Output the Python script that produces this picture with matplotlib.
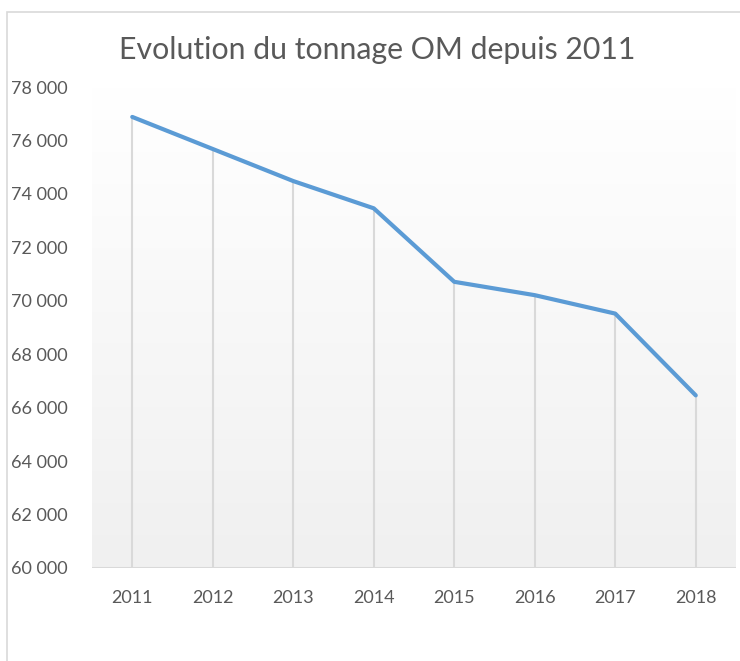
import numpy as np
import matplotlib
matplotlib.use('Agg')
import matplotlib.pyplot as plt
from matplotlib.patches import Rectangle

# Tonnage OM per year
years = ['2011', '2012', '2013', '2014', '2015', '2016', '2017', '2018']
tonnage = [76880, 75680, 74480, 73460, 70710, 70210, 69520, 66460]
yticks = [60000, 62000, 64000, 66000, 68000, 70000, 72000, 74000, 76000, 78000]

plt.rcParams['font.family'] = ['Lato', 'DejaVu Sans']
grey_text = '#595959'

W, H = 740, 661
fig = plt.figure(figsize=(W / 100, H / 100), dpi=100)
fig.patch.set_facecolor('white')

# outer frame of the chart (left and top edges visible)
fig.patches.append(Rectangle((7 / W, -0.1), 1.2, (H - 12) / H + 0.1, transform=fig.transFigure,
                             fill=False, edgecolor='#d9d9d9', linewidth=1.2))

ax = fig.add_axes([92 / W, 1 - 568 / H, (736 - 92) / W, (568 - 87) / H])
x = np.arange(len(years))

# vertical gradient background of the plot area
grad = np.linspace(0, 1, 256).reshape(-1, 1)
ax.imshow(grad, extent=[0, 1, 0, 1], transform=ax.transAxes, aspect='auto',
          cmap=matplotlib.colors.LinearSegmentedColormap.from_list('g', ['#f0f0f0', '#ffffff']),
          origin='lower', zorder=0)

ax.set_xlim(-0.5, len(years) - 0.5)
ax.set_ylim(60000, 78000)

# drop lines
ax.vlines(x, 60000, tonnage, color='#d9d9d9', linewidth=1.5, zorder=1)
ax.plot(x, tonnage, color='#5b9bd5', linewidth=3, solid_capstyle='round',
        solid_joinstyle='round', zorder=3)
ax.axhline(60000, color='#d9d9d9', linewidth=1.5, zorder=2)

for s in ax.spines.values():
    s.set_visible(False)

ax.set_xticks(x)
ax.set_xticklabels(years)
ax.set_yticks(yticks)
ax.set_yticklabels([f'{v:,}'.replace(',', ' ') for v in yticks])
ax.tick_params(axis='x', length=0, pad=16, labelsize=13, labelcolor=grey_text)
ax.tick_params(axis='y', length=0, pad=58, labelsize=13, labelcolor=grey_text)
for lab in ax.get_yticklabels():
    lab.set_horizontalalignment('left')

fig.text(377 / W, 1 - 50 / H, 'Evolution du tonnage OM depuis 2011', ha='center', va='center',
         fontsize=21.8, color=grey_text)

fig.savefig('out.png', dpi=100)
